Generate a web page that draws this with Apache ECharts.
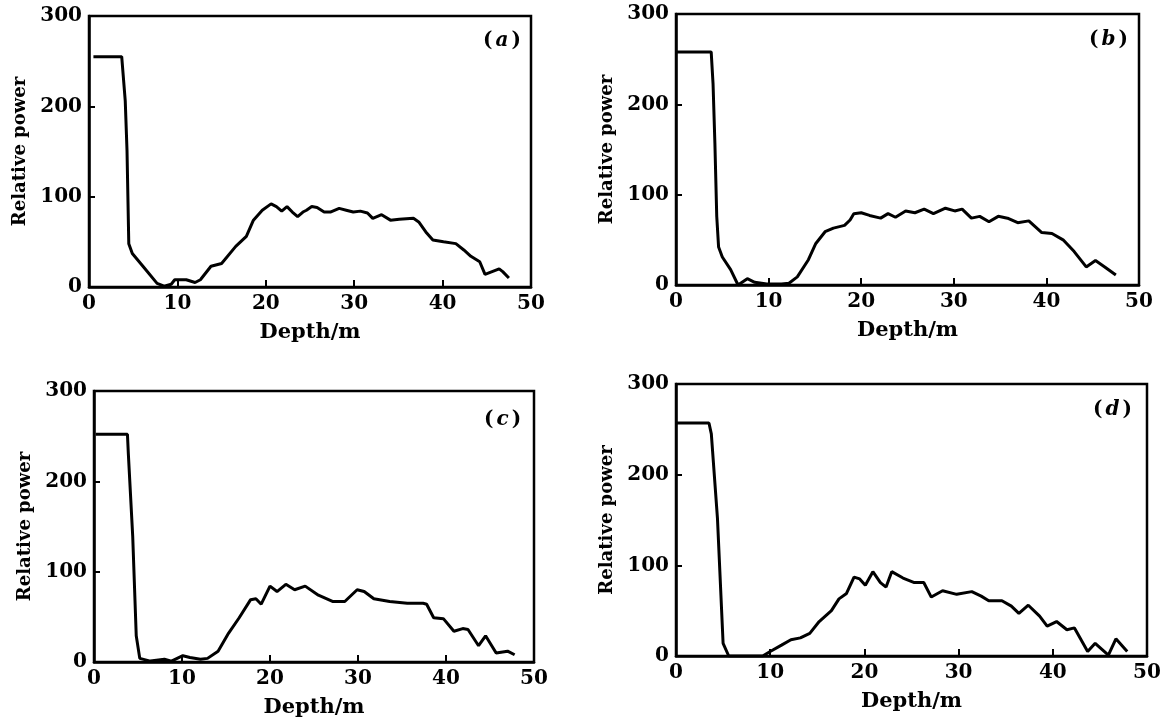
<!DOCTYPE html>
<html>
<head>
<meta charset="utf-8">
<script src="https://cdn.jsdelivr.net/npm/echarts@6/dist/echarts.min.js"></script>
<style>
html,body{margin:0;padding:0;background:#fff;}
#chart{width:1176px;height:719px;}
</style>
</head>
<body>
<div id="chart"></div>
<script>
// ---- data (depth in m, relative power) ----
var depthA = [0.5, 3.7, 4.1, 4.3, 4.5, 4.9, 6.1, 7.7, 8.5, 9.3, 9.7, 11, 12, 12.6, 13.8, 15, 16.6, 17.8, 18.6, 19.6, 20.6, 21.2, 21.8, 22.4, 23, 23.6, 24.2, 24.6, 25.2, 25.8, 26.6, 27.3, 28.3, 29.1, 29.9, 30.7, 31.5, 32.1, 33.1, 34.1, 35.1, 36.7, 37.3, 38.1, 38.9, 40.1, 41.5, 42.4, 43.2, 44.2, 44.8, 45.6, 46.4, 46.8, 47.5];
var powerA = [255, 255, 206, 151, 48, 37, 23, 4, 1, 3, 8, 8, 5, 8, 23, 26, 45, 56, 74, 85, 92, 89, 84, 89, 83, 78, 83, 85, 89, 88, 83, 83, 87, 85, 83, 84, 82, 76, 80, 74, 75, 76, 72, 61, 52, 50, 48, 41, 34, 28, 14, 17, 20, 17, 10];

var depthB = [0.1, 3.8, 4.0, 4.2, 4.4, 4.6, 5.0, 5.9, 6.7, 7.7, 8.5, 9.8, 11.4, 12.2, 13.1, 14.3, 15.1, 16.1, 17, 18.2, 18.8, 19.2, 20, 20.9, 22.1, 22.9, 23.7, 24.8, 25.8, 26.8, 27.8, 29.1, 30.1, 30.9, 31.9, 32.8, 33.8, 34.8, 35.8, 36.9, 38.1, 39.5, 40.6, 41.8, 43, 44.3, 45.3, 46.3, 47.5];
var powerB = [258, 258, 223, 157, 76, 42, 31, 17, 0, 7, 3, 1, 1, 2, 9, 28, 46, 59, 63, 66, 72, 79, 80, 77, 74, 79, 75, 82, 80, 84, 79, 85, 82, 84, 74, 76, 70, 76, 74, 69, 71, 58, 57, 50, 37, 20, 27, 20, 11];

var depthC = [0.2, 3.8, 3.9, 4.4, 4.8, 5.2, 6.4, 8, 8.8, 10.1, 10.9, 12.1, 12.9, 14.1, 15.3, 16.5, 17.8, 18.4, 19, 20, 20.8, 21.8, 22.8, 24, 25.5, 27.1, 28.5, 29.9, 30.7, 31.8, 33.6, 35.6, 37.4, 37.8, 38.6, 39.7, 40.9, 41.9, 42.5, 43.7, 44.5, 45.7, 47, 47.8];
var powerC = [252, 252, 231, 139, 29, 4, 1, 3, 1, 7, 5, 3, 4, 12, 32, 49, 69, 70, 64, 84, 78, 86, 80, 84, 74, 67, 67, 80, 78, 70, 67, 65, 65, 64, 49, 48, 34, 37, 36, 18, 29, 10, 12, 8];

var depthD = [0.1, 3.5, 3.75, 4.4, 5, 5.6, 9.2, 10, 11.2, 12.2, 13.2, 14.2, 15.2, 16.5, 17.3, 18.1, 18.9, 19.5, 20.1, 20.9, 21.7, 22.3, 22.9, 24.1, 25.3, 26.3, 27.1, 28.3, 29.8, 31.4, 32.4, 33.2, 34.6, 35.6, 36.4, 37.4, 38.6, 39.4, 40.4, 41.5, 42.3, 43.7, 44.5, 45.9, 46.7, 47.9];
var powerD = [257, 257, 245, 152, 14, 0, 0, 5, 12, 18, 20, 25, 38, 50, 63, 69, 87, 85, 78, 93, 81, 76, 93, 86, 81, 81, 65, 72, 68, 71, 66, 61, 61, 55, 47, 56, 44, 33, 38, 29, 31, 5, 14, 1, 19, 5];

var panelLetters = ['a', 'b', 'c', 'd'];
var xName = 'Depth/m';
var yName = 'Relative power';

// ---- layout / style ----
var FONT = '"DejaVu Serif", "Liberation Serif", serif';
var grids = [
  {left: 89,  top: 16,  width: 442, height: 271},
  {left: 676, top: 14,  width: 463, height: 271},
  {left: 94,  top: 391, width: 440, height: 272},
  {left: 676, top: 384, width: 471, height: 272}
];
var letterPos = [
  {left: 478, top: 26},
  {left: 1084, top: 25},
  {left: 479, top: 405},
  {left: 1088, top: 395}
];

function pairs(xs, ys) {
  return xs.map(function (x, i) { return [x, ys[i]]; });
}
var seriesData = [pairs(depthA, powerA), pairs(depthB, powerB), pairs(depthC, powerC), pairs(depthD, powerD)];

var option = {
  backgroundColor: '#ffffff',
  animation: false,
  grid: grids.map(function (g) {
    return {left: g.left, top: g.top, width: g.width, height: g.height,
      show: true, borderColor: '#000', borderWidth: 2.5, backgroundColor: 'transparent', containLabel: false};
  }),
  title: letterPos.map(function (p, i) {
    return {
      left: p.left, top: p.top,
      text: '{p|(}{i|' + panelLetters[i] + '}{p|)}',
      textStyle: {
        rich: {
          p: {fontFamily: FONT, fontSize: 20, color: '#000'},
          i: {fontFamily: FONT, fontSize: 20, fontStyle: 'italic', fontWeight: 'bold', color: '#000', padding: [0, 3, 0, 3]}
        }
      }
    };
  }),
  xAxis: grids.map(function (g, i) {
    return {
      gridIndex: i, type: 'value', min: 0, max: 50, interval: 10,
      name: xName, nameLocation: 'middle', nameGap: 35,
      nameTextStyle: {fontFamily: FONT, fontSize: 21, fontWeight: 'bold', color: '#000'},
      axisLine: {show: true, onZero: false, lineStyle: {color: '#000', width: 2.5}},
      axisTick: {show: true, inside: true, length: 7, lineStyle: {color: '#000', width: 2}},
      axisLabel: {fontFamily: FONT, fontSize: 20, fontWeight: 'bold', color: '#000', margin: 7},
      splitLine: {show: false}
    };
  }),
  yAxis: grids.map(function (g, i) {
    return {
      gridIndex: i, type: 'value', min: 0, max: 300, interval: 100,
      name: yName, nameLocation: 'middle', nameGap: 60,
      nameTextStyle: {fontFamily: FONT, fontSize: 18, fontWeight: 'bold', color: '#000'},
      axisLine: {show: true, onZero: false, lineStyle: {color: '#000', width: 2.5}},
      axisTick: {show: true, inside: true, length: 6, lineStyle: {color: '#000', width: 2}},
      axisLabel: {fontFamily: FONT, fontSize: 20, fontWeight: 'bold', color: '#000', margin: 7},
      splitLine: {show: false}
    };
  }),
  series: seriesData.map(function (d, i) {
    return {
      type: 'line', xAxisIndex: i, yAxisIndex: i, data: d,
      showSymbol: false, symbol: 'none', smooth: false,
      lineStyle: {color: '#000', width: 3},
      clip: true
    };
  })
};

var chart = echarts.init(document.getElementById('chart'), null, {renderer: 'canvas'});
chart.setOption(option);
</script>
</body>
</html>
